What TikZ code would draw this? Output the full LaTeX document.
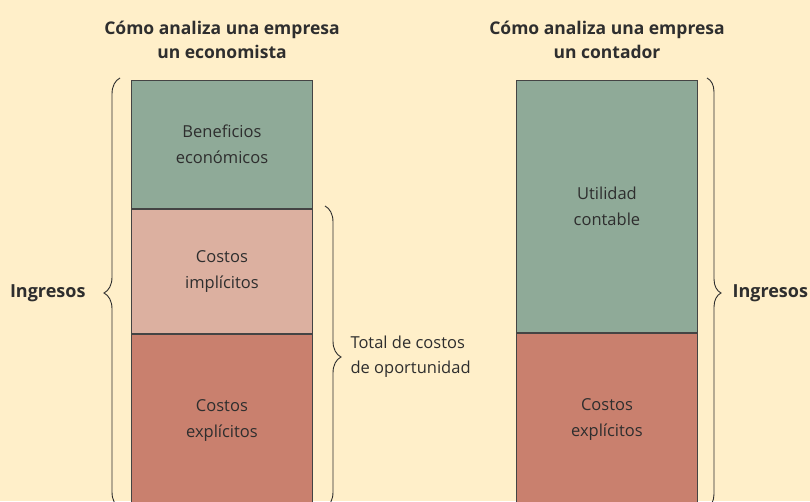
\documentclass[tikz,border=0pt]{standalone}
\usepackage{fontspec}
\setmainfont{Open Sans}
\usepackage{xcolor}
\usetikzlibrary{positioning, decorations.pathreplacing}
\definecolor{paper}{HTML}{FFEFC9}
\definecolor{ink}{HTML}{2E2E2E}
\definecolor{edge}{HTML}{444444}
\definecolor{profitgreen}{HTML}{8FAA98}
\definecolor{implicitpink}{HTML}{DCB0A0}
\definecolor{explicitred}{HTML}{C9806E}
\begin{document}
\begin{tikzpicture}[
  x=1pt, y=1pt,
  node distance=0pt,
  block/.style={rectangle, draw=edge, line width=0.9pt, minimum width=181pt, inner sep=0pt,
    font=\fontsize{16.5}{26}\selectfont, text=ink, align=center},
  heading/.style={font=\bfseries\fontsize{17.5}{24}\selectfont, text=ink, align=center},
  side/.style={font=\fontsize{16.5}{25}\selectfont, text=ink},
  curly/.style={decorate, decoration={brace, amplitude=#1}, draw=ink, line width=0.9pt}
]
  \fill[paper] (0,0) rectangle (810,501);
  \clip (0,0) rectangle (810,501);
  \useasboundingbox (0,0) rectangle (810,501);

  % economist view
  \node[heading] (econtitle) at (222,461) {Cómo analiza una empresa\\un economista};
  \node[block, fill=profitgreen, minimum height=128pt, anchor=north west] (benefit) at (131,421) {Beneficios\\económicos};
  \node[block, fill=implicitpink, minimum height=124pt, below=of benefit] (implicit) {Costos\\implícitos};
  \node[block, fill=explicitred, minimum height=172pt, below=of implicit] (explicit) {Costos\\explícitos};

  % accountant view
  \node[heading] (acctitle) at (607,461) {Cómo analiza una empresa\\un contador};
  \node[block, fill=profitgreen, minimum height=252pt, anchor=north west] (profit) at (516,421) {Utilidad\\contable};
  \node[block, fill=explicitred, minimum height=172pt, below=of profit] (acexplicit) {Costos\\explícitos};

  % braces
  \coordinate (revlow) at (120,-7);
  \coordinate (revtop) at (120,423);
  \coordinate (opptop) at (325,295);
  \coordinate (opplow) at (325,-7);
  \coordinate (acrevtop) at (707,423);
  \coordinate (acrevlow) at (707,-7);
  \draw[curly=16pt] (revlow) -- (revtop);
  \draw[curly=16pt] (opptop) -- (opplow);
  \draw[curly=14pt] (acrevtop) -- (acrevlow);

  \node[side, font=\bfseries\fontsize{18}{24}\selectfont, anchor=east] (revenue) at (89,208) {Ingresos};
  \node[side, align=left, anchor=west] (opportunity) at (347,144) {Total de costos\\de oportunidad};
  \node[side, font=\bfseries\fontsize{18}{24}\selectfont, anchor=west] (acrevenue) at (729,208) {Ingresos};
\end{tikzpicture}
\end{document}
